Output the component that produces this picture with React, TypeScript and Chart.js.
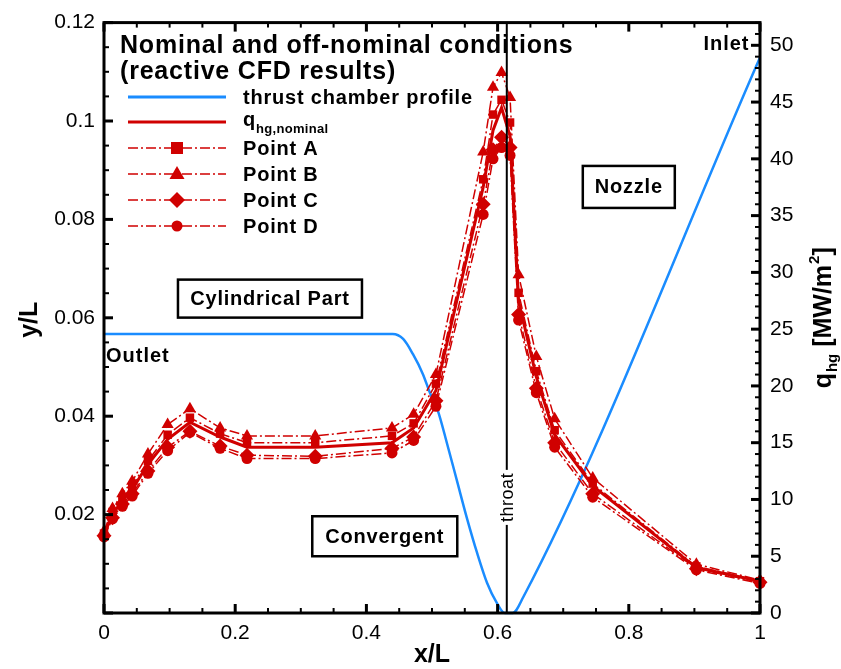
import React, { useEffect, useRef } from 'react';
import { Chart, registerables } from 'chart.js';
Chart.register(...registerables);

// ---------- data ----------
const profileX = [0, 0.44, 0.456, 0.471, 0.486, 0.497, 0.509, 0.523, 0.538, 0.553, 0.569, 0.584, 0.599, 0.611, 0.623, 0.639, 1.0];
const profileY = [0.0567, 0.0567, 0.0557, 0.0526, 0.0486, 0.0447, 0.0411, 0.0344, 0.0269, 0.0194, 0.0121, 0.0061, 0.002, 0.0, 0.0, 0.0032, 0.1129];

const qX = [0, 0.013, 0.028, 0.043, 0.067, 0.097, 0.131, 0.177, 0.218, 0.322, 0.439, 0.472, 0.506, 0.578, 0.593, 0.606, 0.619, 0.632, 0.659, 0.687, 0.745, 0.903, 1.0];
const qNominal = [6.9, 8.7, 9.9, 10.9, 13.1, 15.3, 16.8, 15.5, 14.6, 14.6, 15.0, 16.3, 19.6, 37.5, 42.5, 44.5, 42.0, 27.5, 20.8, 15.7, 11.2, 4.0, 2.8];
const qPointA = [7.0, 8.9, 10.1, 11.2, 13.4, 15.7, 17.2, 15.8, 15.0, 15.0, 15.6, 16.7, 20.2, 38.2, 43.9, 45.2, 43.2, 28.2, 21.3, 16.1, 11.4, 4.1, 2.8];
const qPointB = [7.2, 9.2, 10.5, 11.6, 14.0, 16.6, 18.0, 16.3, 15.6, 15.6, 16.3, 17.5, 21.0, 40.6, 46.3, 47.6, 45.4, 29.8, 22.6, 17.1, 11.9, 4.3, 2.9];
const qPointC = [6.8, 8.4, 9.6, 10.5, 12.5, 14.6, 16.0, 14.7, 13.9, 13.8, 14.5, 15.5, 18.7, 36.0, 40.8, 41.9, 41.0, 26.3, 19.8, 15.0, 10.5, 3.9, 2.7];
const qPointD = [6.7, 8.3, 9.4, 10.3, 12.3, 14.3, 15.9, 14.5, 13.6, 13.6, 14.1, 15.2, 18.2, 35.1, 40.0, 41.0, 40.3, 25.8, 19.4, 14.6, 10.2, 3.8, 2.6];

const xMajorTicks = [0, 0.2, 0.4, 0.6, 0.8, 1];
const yMajorTicks = [0, 0.02, 0.04, 0.06, 0.08, 0.1, 0.12];
const qMajorTicks = [0, 5, 10, 15, 20, 25, 30, 35, 40, 45, 50];
const throatX = 0.614;

const legendTitle = ['Nominal and off-nominal conditions', '(reactive CFD results)'];
const legendLabels = ['thrust chamber profile', 'q', 'Point A', 'Point B', 'Point C', 'Point D'];

const RED = '#d00000';
const BLUE = '#1a8cff';
const FONT = '"Liberation Sans", Arial, Helvetica, sans-serif';
const DASH = [10, 3, 2, 3];

const toPts = (xs: number[], ys: number[]) => xs.map((x, i) => ({ x, y: ys[i] }));
const fmt = (v: number) => String(Number(v.toFixed(3)));

function setSpacing(ctx: any, px: number) {
  try { ctx.letterSpacing = `${px}px`; } catch (e) { /* ignore */ }
}

function drawBoxText(ctx: CanvasRenderingContext2D, text: string, cx: number, cy: number, w: number, h: number) {
  ctx.save();
  ctx.fillStyle = '#fff';
  ctx.fillRect(cx - w / 2, cy - h / 2, w, h);
  ctx.strokeStyle = '#000';
  ctx.lineWidth = 2.5;
  ctx.strokeRect(cx - w / 2, cy - h / 2, w, h);
  ctx.fillStyle = '#000';
  ctx.font = `bold 20px ${FONT}`;
  setSpacing(ctx, 0.8);
  ctx.textAlign = 'center';
  ctx.textBaseline = 'middle';
  ctx.fillText(text, cx, cy + 1);
  ctx.restore();
}

const decor = {
  id: 'decor',
  afterDatasetsDraw(chart: any) {
    const { ctx, chartArea: a, scales } = chart;
    const xs = scales.x, ys = scales.y;
    ctx.save();
    // throat line
    const tx = xs.getPixelForValue(throatX);
    ctx.strokeStyle = '#000';
    ctx.lineWidth = 2;
    ctx.beginPath();
    ctx.moveTo(tx, a.top);
    ctx.lineTo(tx, a.bottom);
    ctx.stroke();
    // throat label
    ctx.save();
    ctx.translate(tx, ys.getPixelForValue(0.0235));
    ctx.rotate(-Math.PI / 2);
    ctx.font = `18px ${FONT}`;
    setSpacing(ctx, 0.5);
    const tw = ctx.measureText('throat').width;
    ctx.fillStyle = '#fff';
    ctx.fillRect(-tw / 2 - 3, -9, tw + 6, 18);
    ctx.fillStyle = '#000';
    ctx.textAlign = 'center';
    ctx.textBaseline = 'middle';
    ctx.fillText('throat', 0, 1);
    ctx.restore();

    // text boxes
    drawBoxText(ctx, 'Cylindrical Part', xs.getPixelForValue(0.253), ys.getPixelForValue(0.0639), 184, 38);
    drawBoxText(ctx, 'Convergent', xs.getPixelForValue(0.428), ys.getPixelForValue(0.0156), 145, 40);
    drawBoxText(ctx, 'Nozzle', xs.getPixelForValue(0.80), ys.getPixelForValue(0.0866), 92, 42);

    // Outlet / Inlet
    ctx.save();
    ctx.fillStyle = '#000';
    ctx.font = `bold 20px ${FONT}`;
    setSpacing(ctx, 1);
    ctx.textBaseline = 'middle';
    ctx.textAlign = 'left';
    ctx.fillText('Outlet', xs.getPixelForValue(0.003), ys.getPixelForValue(0.0522));
    ctx.textAlign = 'right';
    ctx.fillText('Inlet', xs.getPixelForValue(0.984), ys.getPixelForValue(0.1155));
    ctx.restore();

    // legend
    const lx = a.left + 16;
    ctx.save();
    ctx.fillStyle = '#000';
    ctx.textAlign = 'left';
    ctx.textBaseline = 'alphabetic';
    ctx.font = `bold 25px ${FONT}`;
    setSpacing(ctx, 0.8);
    ctx.fillText(legendTitle[0], lx, a.top + 30);
    ctx.fillText(legendTitle[1], lx, a.top + 56);
    ctx.restore();
    const rowY = [97, 122, 148, 174, 200, 226];
    const l0 = a.left + 24, l1 = a.left + 122, mx = a.left + 73, txx = a.left + 139;
    for (let i = 0; i < 6; i++) {
      const y = rowY[i];
      ctx.save();
      ctx.beginPath();
      ctx.moveTo(l0, y);
      ctx.lineTo(l1, y);
      if (i === 0) { ctx.strokeStyle = BLUE; ctx.lineWidth = 3; }
      else if (i === 1) { ctx.strokeStyle = RED; ctx.lineWidth = 3; }
      else { ctx.strokeStyle = RED; ctx.lineWidth = 1.5; ctx.setLineDash(DASH); }
      ctx.stroke();
      ctx.restore();
      if (i >= 2) {
        ctx.fillStyle = RED;
        ctx.beginPath();
        if (i === 2) ctx.rect(mx - 6, y - 6, 12, 12);
        else if (i === 3) { ctx.moveTo(mx, y - 8); ctx.lineTo(mx + 7.5, y + 5); ctx.lineTo(mx - 7.5, y + 5); ctx.closePath(); }
        else if (i === 4) { ctx.moveTo(mx, y - 8); ctx.lineTo(mx + 8, y); ctx.lineTo(mx, y + 8); ctx.lineTo(mx - 8, y); ctx.closePath(); }
        else ctx.arc(mx, y, 5.5, 0, Math.PI * 2);
        ctx.fill();
      }
      ctx.save();
      ctx.fillStyle = '#000';
      ctx.textBaseline = 'middle';
      setSpacing(ctx, 0.8);
      if (i === 1) {
        ctx.font = `bold 20px ${FONT}`;
        ctx.fillText(legendLabels[1], txx, y - 2);
        const qw = ctx.measureText(legendLabels[1]).width;
        ctx.font = `bold 13px ${FONT}`;
        setSpacing(ctx, 0.3);
        ctx.fillText('hg,nominal', txx + qw, y + 7);
      } else {
        ctx.font = `bold 20px ${FONT}`;
        ctx.fillText(legendLabels[i], txx, y + 1);
      }
      ctx.restore();
    }
    ctx.restore();
  },
  afterDraw(chart: any) {
    const { ctx, chartArea: a, scales } = chart;
    const xs = scales.x, ys = scales.y, qs = scales.y2;
    ctx.save();
    ctx.strokeStyle = '#000';
    // frame
    ctx.lineWidth = 3;
    ctx.strokeRect(a.left, a.top, a.right - a.left, a.bottom - a.top);
    const tick = (x1: number, y1: number, x2: number, y2: number, w: number) => {
      ctx.lineWidth = w;
      ctx.beginPath();
      ctx.moveTo(x1, y1);
      ctx.lineTo(x2, y2);
      ctx.stroke();
    };
    // x ticks
    for (let k = 0; k <= 20; k++) {
      const v = k * 0.05;
      const major = k % 4 === 0;
      const px = xs.getPixelForValue(v);
      const L = major ? 9 : 5;
      tick(px, a.bottom, px, a.bottom - L, major ? 3 : 2);
      tick(px, a.top, px, a.top + L, major ? 3 : 2);
    }
    // left y ticks
    for (let k = 0; k <= 24; k++) {
      const v = k * 0.005;
      const major = k % 4 === 0;
      const py = ys.getPixelForValue(v);
      tick(a.left, py, a.left + (major ? 9 : 5), py, major ? 3 : 2);
    }
    // right ticks
    for (let k = 0; k <= 52; k++) {
      const major = k % 5 === 0;
      const py = qs.getPixelForValue(k);
      tick(a.right, py, a.right - (major ? 9 : 5), py, major ? 3 : 2);
    }
    // axis titles
    ctx.fillStyle = '#000';
    ctx.font = `bold 25px ${FONT}`;
    ctx.textAlign = 'center';
    ctx.textBaseline = 'middle';
    ctx.fillText('x/L', (a.left + a.right) / 2, 655);
    ctx.save();
    ctx.translate(30, (a.top + a.bottom) / 2 + 2);
    ctx.rotate(-Math.PI / 2);
    ctx.fillText('y/L', 0, 0);
    ctx.restore();
    // right title q_hg [MW/m^2]
    ctx.save();
    ctx.translate(822, (a.top + a.bottom) / 2);
    ctx.rotate(-Math.PI / 2);
    ctx.textAlign = 'left';
    ctx.textBaseline = 'alphabetic';
    const big = `bold 25px ${FONT}`, small = `bold 15px ${FONT}`;
    ctx.font = big; const w1 = ctx.measureText('q').width;
    ctx.font = small; const w2 = ctx.measureText('hg').width;
    ctx.font = big; const w3 = ctx.measureText(' [MW/m').width;
    ctx.font = small; const w4 = ctx.measureText('2').width;
    ctx.font = big; const w5 = ctx.measureText(']').width;
    let cx = -(w1 + w2 + w3 + w4 + w5 + 2) / 2;
    const base = 9;
    ctx.font = big; ctx.fillText('q', cx, base); cx += w1 + 1;
    ctx.font = small; ctx.fillText('hg', cx, base + 6); cx += w2;
    ctx.font = big; ctx.fillText(' [MW/m', cx, base); cx += w3;
    ctx.font = small; ctx.fillText('2', cx + 1, base - 12); cx += w4 + 1;
    ctx.font = big; ctx.fillText(']', cx, base);
    ctx.restore();
    ctx.restore();
  },
};

export default function App() {
  const ref = useRef<HTMLCanvasElement>(null);
  useEffect(() => {
    document.body.style.margin = '0';
    const redDash = (data: number[], style: string, radius: number) => ({
      data: toPts(qX, data),
      yAxisID: 'y2',
      borderColor: RED,
      backgroundColor: RED,
      borderWidth: 1.5,
      borderDash: DASH,
      pointStyle: style,
      pointRadius: radius,
      pointBackgroundColor: RED,
      pointBorderColor: RED,
      pointBorderWidth: 0,
      showLine: true,
      clip: false,
    });
    const chart = new Chart(ref.current!, {
      type: 'scatter',
      data: {
        datasets: [
          redDash(qPointD, 'circle', 5.5),
          redDash(qPointC, 'rectRot', 7.5),
          redDash(qPointB, 'triangle', 7),
          redDash(qPointA, 'rect', 6),
          {
            data: toPts(qX, qNominal),
            yAxisID: 'y2',
            borderColor: RED,
            borderWidth: 3,
            pointRadius: 0,
            showLine: true,
            clip: false,
          },
          {
            data: toPts(profileX, profileY),
            yAxisID: 'y',
            borderColor: BLUE,
            borderWidth: 2.5,
            pointRadius: 0,
            showLine: true,
            cubicInterpolationMode: 'monotone',
            clip: false,
          },
        ] as any,
      },
      options: {
        animation: false,
        responsive: false,
        devicePixelRatio: 1,
        layout: { padding: { top: 20, left: 0, right: 0, bottom: 0 } },
        plugins: { legend: { display: false }, tooltip: { enabled: false } },
        scales: {
          x: {
            type: 'linear',
            min: 0,
            max: 1,
            grid: { display: false, drawTicks: false },
            border: { display: false },
            afterBuildTicks: (s: any) => { s.ticks = xMajorTicks.map((v) => ({ value: v })); },
            afterFit: (s: any) => { s.height = 56; },
            ticks: { color: '#000', font: { family: FONT, size: 21 }, padding: 8, maxRotation: 0, callback: (v: any) => fmt(Number(v)) },
          },
          y: {
            type: 'linear',
            position: 'left',
            min: 0,
            max: 0.12,
            grid: { display: false, drawTicks: false },
            border: { display: false },
            afterBuildTicks: (s: any) => { s.ticks = yMajorTicks.map((v) => ({ value: v })); },
            afterFit: (s: any) => { s.width = 104; },
            ticks: { color: '#000', font: { family: FONT, size: 21 }, padding: 9, callback: (v: any) => (Number(v) === 0 ? '' : fmt(Number(v))) },
          },
          y2: {
            type: 'linear',
            position: 'right',
            min: 0,
            max: 52,
            grid: { display: false, drawTicks: false },
            border: { display: false },
            afterBuildTicks: (s: any) => { s.ticks = qMajorTicks.map((v) => ({ value: v })); },
            afterFit: (s: any) => { s.width = 81; },
            ticks: { color: '#000', font: { family: FONT, size: 21 }, padding: 10, callback: (v: any) => fmt(Number(v)) },
          },
        },
      } as any,
      plugins: [decor],
    });
    return () => chart.destroy();
  }, []);
  return (
    <div style={{ width: 841, height: 669 }}>
      <canvas ref={ref} width={841} height={669} style={{ display: 'block' }} />
    </div>
  );
}
